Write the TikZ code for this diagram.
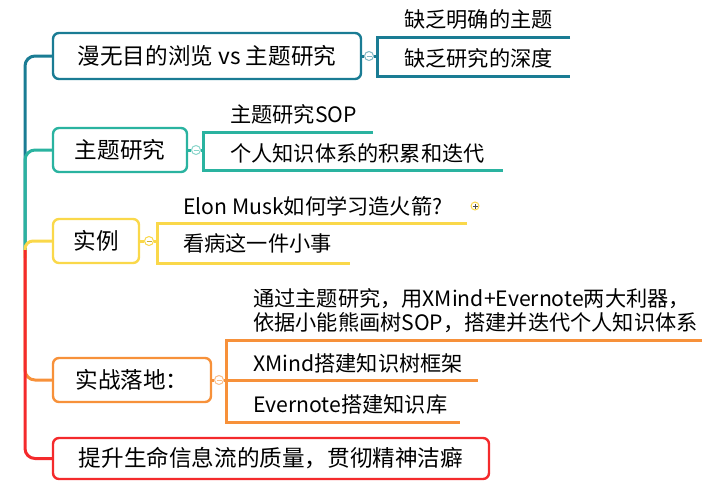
\documentclass[tikz,border=0pt]{standalone}
\usepackage{fontspec}
\setmainfont{Noto Sans CJK SC}
\usepackage{xcolor}

\definecolor{brBlue}{HTML}{1A7C94}
\definecolor{brTeal}{HTML}{2AB3A0}
\definecolor{brYellow}{HTML}{FAD84A}
\definecolor{brOrange}{HTML}{F7913A}
\definecolor{brRed}{HTML}{F42A2C}

\tikzset{
  topic/.style={draw, rounded corners=6pt, line width=2.4pt, fill=white,
    inner sep=0pt, font=\fontsize{22.6}{26}\selectfont},
  subtopic/.style={anchor=west, inner sep=0pt, align=left,
    font=\fontsize{21.2}{24}\selectfont},
  branch/.style={line width=3pt, rounded corners=10pt},
  uline/.style={line width=3pt},
  fold/.style={circle, draw, fill=white, line width=1pt, minimum size=9pt,
    inner sep=0pt, font=\tiny},
}
\newcommand{\foldminus}{\rule{5pt}{1pt}}
\newcommand{\foldplus}{\rule{5pt}{1pt}\llap{\rule[-2pt]{1pt}{5pt}\hspace{2pt}}}

\begin{document}
\begin{tikzpicture}[x=1pt, y=-1pt]
    \useasboundingbox (0,0) rectangle (712,493);

    % trunk
    \coordinate (root) at (25,250);
    \coordinate (rootY) at (25,258);

    % main topics
    \node[topic, draw=brBlue, minimum width=308, minimum height=46] (t1) at (207,56) {漫无目的浏览 vs 主题研究};
    \node[topic, draw=brTeal, minimum width=134, minimum height=44] (t2) at (120,150) {主题研究};
    \node[topic, draw=brYellow, minimum width=86, minimum height=44] (t3) at (96,241) {实例};
    \node[topic, draw=brOrange, minimum width=158, minimum height=44] (t4) at (132,380) {实战落地：};
    \node[topic, draw=brRed, minimum width=436, minimum height=41] (t5) at (271,458.5) {提升生命信息流的质量，贯彻精神洁癖};

    \draw[branch, brBlue] (root) |- (t1.west);
    \draw[branch, brTeal] (root) |- (t2.west);
    \draw[branch, brYellow, rounded corners=8pt] (rootY) |- (t3.west);
    \draw[branch, brOrange] (root) |- (t4.west);
    \draw[branch, brRed] (root) |- (t5.west);

    % branch 1
    \node[fold, draw=brBlue!55, text=brBlue!55] (f1) at (369,56) {\foldminus};
    \coordinate (b1) at (377,56);
    \coordinate (u11) at (570,37);
    \coordinate (u12) at (570,76);
    \draw[uline, brBlue] (t1.east) -- (f1.west);
    \draw[uline, brBlue] (f1.east) -- (b1);
    \draw[uline, brBlue] (u11) -| (b1) |- (u12);
    \node[subtopic] (s11) at (404,19.5) {缺乏明确的主题};
    \node[subtopic] (s12) at (404,58) {缺乏研究的深度};

    % branch 2
    \node[fold, draw=brTeal!55, text=brTeal!55] (f2) at (196,150) {\foldminus};
    \coordinate (b2) at (203,150);
    \coordinate (u21) at (373,132);
    \coordinate (u22) at (503,170);
    \draw[uline, brTeal] (t2.east) -- (f2.west);
    \draw[uline, brTeal] (f2.east) -- (b2);
    \draw[uline, brTeal] (u21) -| (b2) |- (u22);
    \node[subtopic] (s21) at (230,114) {主题研究SOP};
    \node[subtopic] (s22) at (230,153) {个人知识体系的积累和迭代};

    % branch 3
    \node[fold, draw=brYellow, text=brYellow!80!black] (f3) at (149,241) {\foldminus};
    \coordinate (b3) at (157,241);
    \coordinate (u31) at (467,223);
    \coordinate (u32) at (350,263);
    \draw[uline, brYellow] (t3.east) -- (f3.west);
    \draw[uline, brYellow] (f3.east) -- (b3);
    \draw[uline, brYellow] (u31) -| (b3) |- (u32);
    \node[subtopic] (s31) at (183,206.5) {Elon Musk如何学习造火箭?};
    \node[subtopic] (s32) at (183,243) {看病这一件小事};
    \node[fold, draw=brYellow, text=black!70, minimum size=8pt] (p31) at (475,206) {\foldplus};

    % branch 4
    \node[fold, draw=brOrange!60, text=brOrange!60] (f4) at (219,380) {\foldminus};
    \coordinate (b4) at (226,380);
    \coordinate (u41) at (702,340);
    \coordinate (u42) at (478,380);
    \coordinate (u43) at (460,422);
    \draw[uline, brOrange] (t4.east) -- (f4.west);
    \draw[uline, brOrange] (f4.east) -- (u42);
    \draw[uline, brOrange] (u41) -| (b4) |- (u43);
    \node[subtopic] (s41) at (253,310.5) {通过主题研究，用XMind+Evernote两大利器，\\依据小能熊画树SOP，搭建并迭代个人知识体系};
    \node[subtopic] (s42) at (253,363) {XMind搭建知识树框架};
    \node[subtopic] (s43) at (253,404) {Evernote搭建知识库};
\end{tikzpicture}
\end{document}
